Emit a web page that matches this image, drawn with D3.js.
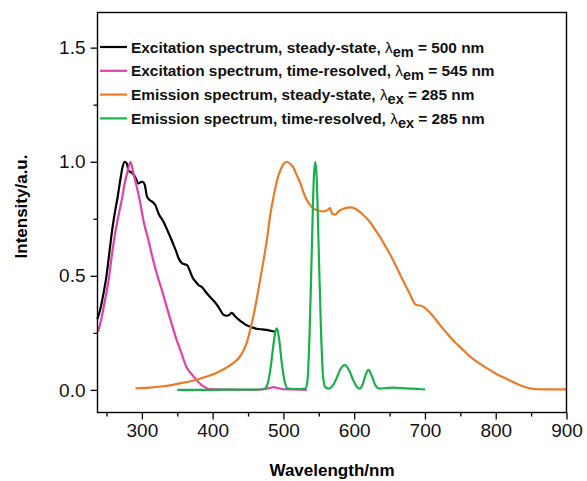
<!DOCTYPE html>
<html>
<head>
<meta charset="utf-8">
<script src="https://cdn.jsdelivr.net/npm/d3@7"></script>
<style>
  body { margin: 0; background: #fff; }
  text { font-family: "Liberation Sans", Arial, sans-serif; }
</style>
</head>
<body>
<svg id="chart"></svg>
<script>
// data: [wavelength nm, normalised intensity]
const excSteady = [
  [237, 0.31], [241, 0.35], [245, 0.41], [250, 0.50], [254, 0.60], [258, 0.70], [262, 0.78],
  [266, 0.85], [270, 0.93], [273, 0.98], [276, 1.0], [279, 0.99], [281, 0.96], [284, 0.955],
  [287, 0.948], [291, 0.93], [295, 0.905], [298, 0.91], [301, 0.912], [304, 0.90], [307, 0.85],
  [310, 0.835], [315, 0.824], [319, 0.81], [324, 0.77], [330, 0.74], [336, 0.70], [342, 0.657],
  [348, 0.61], [353, 0.57], [357, 0.555], [361, 0.55], [364, 0.547], [368, 0.52], [372, 0.49],
  [376, 0.474], [380, 0.46], [385, 0.45], [390, 0.43], [397, 0.405], [403, 0.385], [409, 0.36],
  [415, 0.33], [420, 0.325], [424, 0.33], [427, 0.338], [431, 0.325], [436, 0.31], [440, 0.30],
  [447, 0.285], [455, 0.275], [462, 0.268], [470, 0.265], [478, 0.262], [485, 0.257], [489, 0.255]
];
const excTime = [
  [238, 0.255], [242, 0.30], [247, 0.38], [253, 0.48], [258, 0.60], [263, 0.70], [268, 0.78],
  [272, 0.84], [276, 0.91], [280, 0.96], [284, 1.0], [288, 0.95], [292, 0.90], [297, 0.83],
  [303, 0.73], [309, 0.66], [315, 0.58], [321, 0.51], [328, 0.44], [335, 0.365], [342, 0.29],
  [349, 0.22], [356, 0.16], [363, 0.10], [370, 0.07], [377, 0.044], [384, 0.022], [390, 0.01],
  [396, 0.004], [410, 0.002], [430, 0.001], [455, 0.0], [472, 0.003], [480, 0.008], [486, 0.012],
  [492, 0.008], [500, 0.003], [515, 0.002], [533, 0.0]
];
const emSteady = [
  [291, 0.007], [310, 0.01], [330, 0.016], [356, 0.03], [380, 0.047], [395, 0.062], [406, 0.075],
  [418, 0.095], [429, 0.117], [437, 0.14], [444, 0.175], [449, 0.215], [453, 0.263], [458, 0.33],
  [462, 0.394], [467, 0.48], [472, 0.569], [477, 0.665], [481, 0.759], [486, 0.845], [491, 0.919],
  [496, 0.965], [500, 0.99], [505, 1.0], [510, 0.99], [514, 0.975], [519, 0.94], [524, 0.905],
  [529, 0.86], [533, 0.832], [538, 0.81], [543, 0.795], [550, 0.785], [557, 0.782], [563, 0.79],
  [566, 0.797], [569, 0.772], [573, 0.768], [579, 0.786], [586, 0.795], [594, 0.80], [601, 0.795],
  [608, 0.78], [615, 0.76], [622, 0.737], [630, 0.70], [637, 0.668], [644, 0.63], [651, 0.592],
  [658, 0.55], [665, 0.505], [672, 0.46], [679, 0.418], [684, 0.385], [688, 0.372], [693, 0.37],
  [698, 0.364], [705, 0.345], [712, 0.321], [721, 0.285], [731, 0.248], [742, 0.21], [754, 0.175],
  [766, 0.14], [778, 0.114], [790, 0.09], [801, 0.07], [813, 0.052], [825, 0.034], [836, 0.018],
  [848, 0.007], [860, 0.003], [880, 0.002], [900, 0.002]
];
const emTime = [
  [350, 0.0], [380, 0.0], [420, 0.001], [450, 0.001], [470, 0.003], [474, 0.006], [478, 0.03],
  [482, 0.1], [486, 0.2], [489, 0.26], [491, 0.27], [494, 0.22], [498, 0.11], [502, 0.035],
  [506, 0.006], [515, 0.004], [525, 0.004], [531, 0.006], [534, 0.04], [537, 0.25], [540, 0.6],
  [543, 0.93], [545, 1.0], [547, 0.93], [550, 0.6], [553, 0.27], [556, 0.06], [559, 0.012],
  [564, 0.006], [570, 0.02], [575, 0.05], [580, 0.088], [587, 0.109], [593, 0.085], [599, 0.04],
  [604, 0.012], [608, 0.006], [612, 0.025], [616, 0.065], [620, 0.088], [625, 0.06], [630, 0.02],
  [636, 0.006], [645, 0.008], [655, 0.01], [665, 0.008], [680, 0.006], [692, 0.004], [700, 0.002]
];

const seriesNames = [
  ["Excitation spectrum, steady-state, ", "em", " = 500 nm"],
  ["Excitation spectrum, time-resolved, ", "em", " = 545 nm"],
  ["Emission spectrum, steady-state, ", "ex", " = 285 nm"],
  ["Emission spectrum, time-resolved, ", "ex", " = 285 nm"]
];
const seriesColors = ["#000000", "#e040a8", "#ea7a28", "#18b04a"];
const xTicks = [300, 400, 500, 600, 700, 800, 900];
const xMinor = [250, 350, 450, 550, 650, 750, 850];
const yTicks = [0.0, 0.5, 1.0, 1.5];
const yMinor = [0.25, 0.75, 1.25];

const width = 587, height = 481;
const plotL = 97.5, plotR = 566.5, plotT = 12.5, plotB = 412.5;

const svg = d3.select('#chart')
  .attr('width', width)
  .attr('height', height);

const x = d3.scaleLinear().domain([237.3, 900]).range([plotL, plotR]);
const y = d3.scaleLinear().domain([-0.099, 1.654]).range([plotB, plotT]);

const line = d3.line()
  .x(d => x(d[0]))
  .y(d => y(d[1]))
  .curve(d3.curveMonotoneX);

// curves, drawn in legend order
[excSteady, excTime, emSteady, emTime].forEach((data, i) => {
  svg.append('path')
    .datum(data)
    .attr('d', line)
    .attr('fill', 'none')
    .attr('stroke', seriesColors[i])
    .attr('stroke-width', 2.2)
    .attr('stroke-linejoin', 'round');
});

// frame
svg.append('rect')
  .attr('x', plotL).attr('y', plotT)
  .attr('width', plotR - plotL).attr('height', plotB - plotT)
  .attr('fill', 'none')
  .attr('stroke', '#000')
  .attr('stroke-width', 1.4);

// x axis
svg.append('g')
  .attr('transform', `translate(0, ${plotB})`)
  .call(d3.axisBottom(x).tickValues(xTicks).tickSize(7).tickPadding(4).tickFormat(d3.format('d')));
svg.append('g')
  .attr('transform', `translate(0, ${plotB})`)
  .call(d3.axisBottom(x).tickValues(xMinor).tickSize(4).tickFormat(''));

// y axis
svg.append('g')
  .attr('transform', `translate(${plotL}, 0)`)
  .call(d3.axisLeft(y).tickValues(yTicks).tickSize(7).tickPadding(5).tickFormat(d3.format('.1f')));
svg.append('g')
  .attr('transform', `translate(${plotL}, 0)`)
  .call(d3.axisLeft(y).tickValues(yMinor).tickSize(4).tickFormat(''));

svg.selectAll('.domain').remove();
svg.selectAll('.tick line').attr('stroke', '#000').attr('stroke-width', 1.3);
svg.selectAll('.tick text')
  .attr('fill', '#111')
  .style('font-family', '"Liberation Sans", Arial, sans-serif')
  .style('font-size', '19px');

// axis titles
svg.append('text')
  .attr('x', (plotL + plotR) / 2)
  .attr('y', 476)
  .attr('text-anchor', 'middle')
  .style('font-size', '17px')
  .style('font-weight', 'bold')
  .text('Wavelength/nm');

svg.append('text')
  .attr('transform', `translate(27, ${(plotT + plotB) / 2 - 6}) rotate(-90)`)
  .attr('text-anchor', 'middle')
  .style('font-size', '17px')
  .style('font-weight', 'bold')
  .text('Intensity/a.u.');

// legend
const legend = svg.append('g');
seriesNames.forEach((name, i) => {
  const ly = 47 + i * 23.8;
  legend.append('line')
    .attr('x1', 100).attr('x2', 127)
    .attr('y1', ly).attr('y2', ly)
    .attr('stroke', seriesColors[i])
    .attr('stroke-width', 2.2);
  const t = legend.append('text')
    .attr('x', 131)
    .attr('y', ly + 5.5)
    .style('font-size', '15.4px')
    .style('font-weight', 'bold')
    .attr('fill', '#111');
  t.append('tspan').text(name[0]);
  t.append('tspan').text('λ').style('font-weight', 'normal');
  t.append('tspan').attr('dy', 4).style('font-size', '14.5px').text(name[1]);
  t.append('tspan').attr('dy', -4).text(name[2]);
});
</script>
</body>
</html>
